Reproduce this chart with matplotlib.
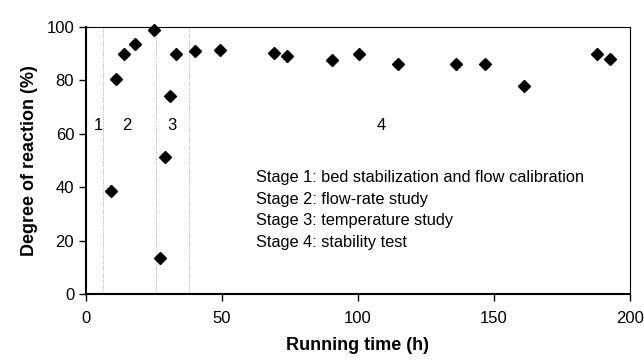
import matplotlib.pyplot as plt

plt.rcParams['font.family'] = ['Liberation Sans', 'DejaVu Sans']

# Running time (h) and degree of reaction (%)
time_h = [9.1, 11.0, 14.1, 18.1, 25.1, 27.1, 29.0, 30.9, 33.0, 40.0, 49.3,
          69.0, 74.0, 90.4, 100.4, 114.6, 136.2, 146.7, 161.0, 187.8, 192.8]
degree = [38.7, 80.6, 89.8, 93.7, 98.7, 13.6, 51.3, 74.2, 89.8, 90.9, 91.3,
          90.3, 89.0, 87.6, 89.8, 86.0, 86.0, 86.0, 77.9, 89.8, 87.9]

# stage boundaries and labels
boundaries = [6.1, 25.6, 38.0]
stage_x = [4.5, 15.0, 31.5, 108.7]
stage_names = ['1', '2', '3', '4']
stage_desc = ['Stage 1: bed stabilization and flow calibration',
              'Stage 2: flow-rate study',
              'Stage 3: temperature study',
              'Stage 4: stability test']

fig = plt.figure(figsize=(6.44, 3.6), dpi=100)
ax = fig.add_axes([0.1335, 0.183, 0.8445, 0.742])

for b in boundaries:
    ax.axvline(b, color='#999999', lw=0.6, ls=':')

ax.plot(time_h, degree, 'D', color='black', ms=6.5, clip_on=False)

for x, s in zip(stage_x, stage_names):
    ax.text(x, 63.3, s, fontsize=12, ha='center', va='center')

for i, s in enumerate(stage_desc):
    ax.text(62.4, 43.8 - i * 8.2, s, fontsize=11.8, ha='left', va='center')

ax.set_xlim(0, 200)
ax.set_ylim(0, 100)
ax.set_xticks([0, 50, 100, 150, 200])
ax.set_yticks([0, 20, 40, 60, 80, 100])
ax.tick_params(labelsize=12, direction='out', length=5, width=1)
ax.tick_params(axis='x', pad=7)
ax.set_xlabel('Running time (h)', fontsize=13, fontweight='bold', labelpad=8)
ax.set_ylabel('Degree of reaction (%)', fontsize=13, fontweight='bold', labelpad=6)

for side in ['left', 'bottom']:
    ax.spines[side].set_linewidth(1.5)
for side in ['top', 'right']:
    ax.spines[side].set_linewidth(0.8)

fig.savefig('out.png', dpi=100)
